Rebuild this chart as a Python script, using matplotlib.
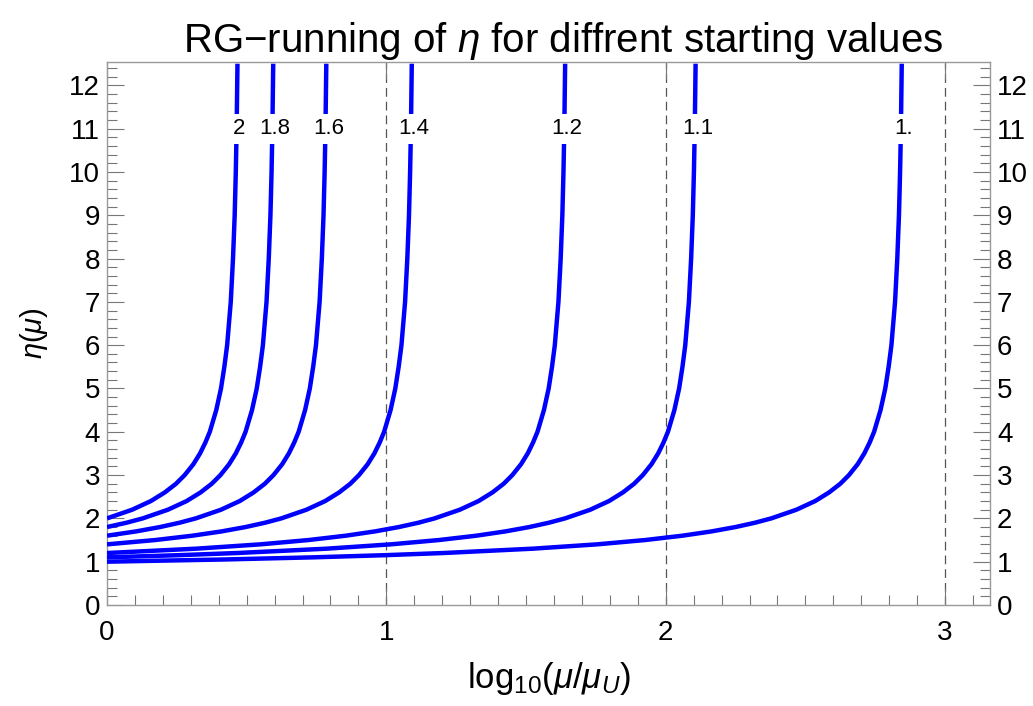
import matplotlib
matplotlib.use("Agg")
import matplotlib.pyplot as plt
import numpy as np
from matplotlib.ticker import MultipleLocator

plt.rcParams["font.family"] = ["Liberation Sans", "DejaVu Sans"]
plt.rcParams["mathtext.fontset"] = "custom"
plt.rcParams["mathtext.rm"] = "Liberation Sans"
plt.rcParams["mathtext.it"] = "Liberation Sans:italic"

# eta levels at which each curve is sampled (a curve starts at its own eta0)
ETA_LEVELS = [1.0, 1.05, 1.1, 1.15, 1.2, 1.3, 1.4, 1.5, 1.6, 1.7, 1.8, 1.9,
              2.0, 2.2, 2.4, 2.6, 2.8, 3.0, 3.25, 3.5, 3.75, 4.0, 4.5, 5.0,
              5.5, 6.0, 7.0, 8.0, 9.0, 10.0, 11.0, 12.5]

# log10(mu/mu_U) where each curve reaches those levels
X_ETA0_1_0 = [0.000, 0.415, 0.738, 0.995, 1.205, 1.524, 1.754, 1.927, 2.060,
              2.165, 2.250, 2.320, 2.378, 2.468, 2.535, 2.585, 2.625, 2.656,
              2.687, 2.711, 2.730, 2.746, 2.769, 2.786, 2.798, 2.808, 2.821,
              2.829, 2.835, 2.839, 2.842, 2.845]
X_ETA0_1_1 = [0.000, 0.257, 0.467, 0.786, 1.016, 1.189, 1.322, 1.427, 1.512,
              1.582, 1.640, 1.730, 1.797, 1.847, 1.887, 1.918, 1.949, 1.973,
              1.992, 2.008, 2.031, 2.048, 2.060, 2.070, 2.083, 2.091, 2.097,
              2.101, 2.104, 2.107]
X_ETA0_1_2 = [0.000, 0.319, 0.549, 0.722, 0.855, 0.960, 1.045, 1.115, 1.173,
              1.263, 1.330, 1.380, 1.420, 1.451, 1.482, 1.506, 1.525, 1.541,
              1.564, 1.581, 1.593, 1.603, 1.616, 1.624, 1.630, 1.634, 1.637,
              1.640]
X_ETA0_1_4 = [0.000, 0.173, 0.306, 0.411, 0.496, 0.566, 0.624, 0.714, 0.781,
              0.831, 0.871, 0.902, 0.933, 0.957, 0.976, 0.992, 1.015, 1.032,
              1.044, 1.054, 1.067, 1.075, 1.081, 1.085, 1.088, 1.091]
X_ETA0_1_6 = [0.000, 0.105, 0.190, 0.260, 0.318, 0.408, 0.475, 0.525, 0.565,
              0.596, 0.627, 0.651, 0.670, 0.686, 0.709, 0.726, 0.738, 0.748,
              0.761, 0.769, 0.775, 0.779, 0.782, 0.785]
X_ETA0_1_8 = [0.000, 0.070, 0.128, 0.218, 0.285, 0.335, 0.375, 0.406, 0.437,
              0.461, 0.480, 0.496, 0.519, 0.536, 0.548, 0.558, 0.571, 0.579,
              0.585, 0.589, 0.592, 0.595]
X_ETA0_2_0 = [0.000, 0.090, 0.157, 0.207, 0.247, 0.278, 0.309, 0.333, 0.352,
              0.368, 0.391, 0.408, 0.420, 0.430, 0.443, 0.451, 0.457, 0.461,
              0.464, 0.467]

CURVES = [X_ETA0_2_0, X_ETA0_1_8, X_ETA0_1_6, X_ETA0_1_4, X_ETA0_1_2,
          X_ETA0_1_1, X_ETA0_1_0]
CURVE_LABELS = ["2", "1.8", "1.6", "1.4", "1.2", "1.1", "1."]
LABEL_ETA = 11.0

DASHED_X = [1, 2, 3]

fig = plt.figure(figsize=(10.33, 7.06), dpi=100)
ax = fig.add_axes([0.1036, 0.1431, 0.8548, 0.7691])

for xs, lab in zip(CURVES, CURVE_LABELS):
    ys = ETA_LEVELS[len(ETA_LEVELS) - len(xs):]
    ax.plot(xs, ys, color="#0000ff", lw=3.2, solid_capstyle="butt", zorder=3)
    xl = np.interp(LABEL_ETA, ys, xs)
    ax.text(xl + 0.01, LABEL_ETA, lab, ha="center", va="center", fontsize=16,
            zorder=4, bbox=dict(facecolor="white", edgecolor="none", pad=3.2))

for v in DASHED_X:
    ax.axvline(v, color="#555555", lw=0.9, dashes=(7, 4), zorder=1)

ax.set_xlim(0, 3.161)
ax.set_ylim(0, 12.54)
ax.xaxis.set_major_locator(MultipleLocator(1))
ax.xaxis.set_minor_locator(MultipleLocator(0.1))
ax.yaxis.set_major_locator(MultipleLocator(1))
ax.yaxis.set_minor_locator(MultipleLocator(0.2))

ax.tick_params(which="both", direction="in", top=True, right=True,
               labelright=True, color="#777777", labelsize=20, width=0.8)
ax.tick_params(which="major", length=12, pad=5)
ax.tick_params(which="minor", length=7, top=False)
ax.tick_params(axis="x", which="major", pad=11)
for sp in ax.spines.values():
    sp.set_color("#999999")
    sp.set_linewidth(1.0)

ax.set_title(r"RG$-$running of $\eta$ for diffrent starting values",
             fontsize=29, pad=7, x=0.516)
ax.set_xlabel(r"$\mathrm{log}_{10}(\mu/\mu_U)$", fontsize=25, labelpad=10)
ax.set_ylabel(r"$\eta(\mu)$", fontsize=21, labelpad=14)

fig.savefig("out.png", dpi=100)
